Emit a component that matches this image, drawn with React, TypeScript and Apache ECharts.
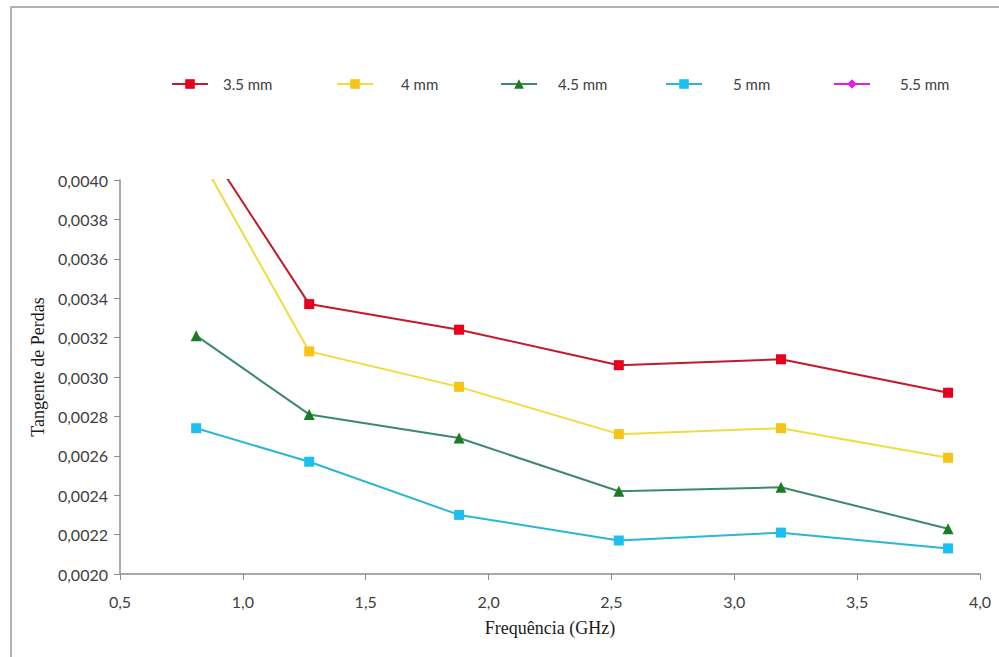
import React, { useEffect, useRef } from "react";
import * as echarts from "echarts";

// Frequency (GHz) at which each sample was measured
const frequencies = [0.81, 1.27, 1.88, 2.53, 3.19, 3.87];

// Loss tangent per sample thickness
const seriesNames = ["3.5 mm", "4 mm", "4.5 mm", "5 mm", "5.5 mm"];
const tan35 = [0.00425, 0.00337, 0.00324, 0.00306, 0.00309, 0.00292];
const tan40 = [0.00415, 0.00313, 0.00295, 0.00271, 0.00274, 0.00259];
const tan45 = [0.00321, 0.00281, 0.00269, 0.00242, 0.00244, 0.00223];
const tan50 = [0.00274, 0.00257, 0.0023, 0.00217, 0.00221, 0.00213];
const tan55: number[] = [];

const xTicks = { min: 0.5, max: 4.0, step: 0.5 };
const yTicks = { min: 0.002, max: 0.004, step: 0.0002 };

const lineColors = ["#c4182c", "#f0dc3c", "#3c8a68", "#2cb6d6", "#e020e0"];
const markerColors = ["#e8001c", "#f5c414", "#1c7a24", "#1cc0f0", "#e020e0"];
const symbols = ["rect", "rect", "triangle", "rect", "diamond"];
const legendLeft = [166, 331, 495, 660, 828];
const legendTextPad = [10, 23, 16, 26, 25];

const pair = (vals: number[]) => vals.map((v, i) => [frequencies[i], v]);

export default function App() {
  const ref = useRef<HTMLDivElement>(null);

  useEffect(() => {
    if (!ref.current) return;
    const chart = echarts.init(ref.current, undefined, { renderer: "svg" });
    const all = [tan35, tan40, tan45, tan50, tan55];
    const axisGray = "#8c8c8c";
    const labelStyle = {
      color: "#404040",
      fontFamily: "Lato",
      fontSize: 16,
    };

    chart.setOption({
      animation: false,
      backgroundColor: "#ffffff",
      grid: { left: 120, top: 180, right: 19, bottom: 83, containLabel: false },
      legend: seriesNames.map((name, i) => ({
        data: [name],
        left: legendLeft[i],
        top: 69,
        itemWidth: 36,
        itemHeight: 12,
        textStyle: {
          ...labelStyle,
          fontSize: 15,
          lineHeight: 20,
          padding: [0, 0, 0, legendTextPad[i]],
        },
        selectedMode: false,
      })),
      xAxis: {
        type: "value",
        min: xTicks.min,
        max: xTicks.max,
        interval: xTicks.step,
        name: "Frequência (GHz)",
        nameLocation: "middle",
        nameGap: 45,
        nameTextStyle: {
          fontFamily: "Liberation Serif",
          fontSize: 18,
          color: "#1a1a1a",
        },
        splitLine: { show: false },
        axisLine: { show: true, lineStyle: { color: axisGray, width: 1.5 } },
        axisTick: { show: true, length: 6, lineStyle: { color: axisGray } },
        axisLabel: {
          ...labelStyle,
          margin: 19,
          formatter: (v: number) => v.toFixed(1).replace(".", ","),
        },
      },
      yAxis: {
        type: "value",
        min: yTicks.min,
        max: yTicks.max,
        interval: yTicks.step,
        splitLine: { show: false },
        axisLine: { show: true, lineStyle: { color: axisGray, width: 1.5 } },
        axisTick: { show: true, length: 6, lineStyle: { color: axisGray } },
        axisLabel: {
          ...labelStyle,
          margin: 12,
          formatter: (v: number) => v.toFixed(4).replace(".", ","),
        },
      },
      graphic: [
        {
          type: "text",
          x: 38,
          y: 367,
          rotation: Math.PI / 2,
          style: {
            text: "Tangente de Perdas",
            fontFamily: "Liberation Serif",
            fontSize: 18,
            fill: "#1a1a1a",
            textAlign: "center",
            textVerticalAlign: "middle",
          },
        },
        {
          type: "polyline",
          shape: { points: [[11, 657], [11, 7], [999, 7]] },
          style: { stroke: "#9a9a9a", lineWidth: 1.5, fill: "none" },
          silent: true,
        },
      ],
      series: seriesNames.map((name, i) => ({
        name,
        type: "line",
        data: pair(all[i]),
        symbol: symbols[i],
        symbolSize: symbols[i] === "triangle" ? 11 : 10,
        clip: true,
        lineStyle: { color: lineColors[i], width: 2 },
        itemStyle: { color: markerColors[i] },
      })),
    });

    return () => chart.dispose();
  }, []);

  return (
    <div
      ref={ref}
      style={{ position: "absolute", left: 0, top: 0, width: 999, height: 657 }}
    />
  );
}
